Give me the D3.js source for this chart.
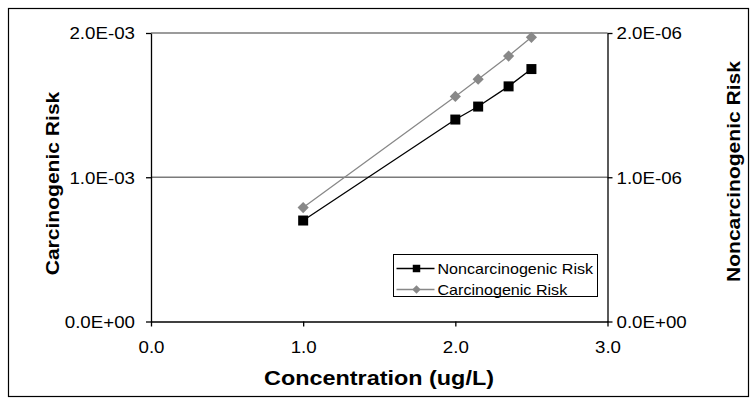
<!DOCTYPE html>
<html>
<head>
<meta charset="utf-8">
<script src="https://cdn.jsdelivr.net/npm/d3@7"></script>
<style>
  html, body { margin: 0; padding: 0; background: #fff; }
  svg { display: block; }
  text { font-family: "Liberation Sans", Arial, sans-serif; fill: #000; }
</style>
</head>
<body>
<svg id="chart" width="750" height="398"></svg>
<script>
// Exposure concentration (ug/L)
const concentration = [1.0, 2.0, 2.15, 2.35, 2.5];
// Carcinogenic risk (left axis)
const carcinogenicRisk = [7.9e-4, 1.56e-3, 1.68e-3, 1.84e-3, 1.97e-3];
// Noncarcinogenic risk (right axis)
const noncarcinogenicRisk = [7.0e-7, 1.40e-6, 1.49e-6, 1.63e-6, 1.75e-6];

const xTickValues = [0, 1, 2, 3];
const xTickLabels = ["0.0", "1.0", "2.0", "3.0"];
const leftTickValues = [0, 1e-3, 2e-3];
const leftTickLabels = ["0.0E+00", "1.0E-03", "2.0E-03"];
const rightTickValues = [0, 1e-6, 2e-6];
const rightTickLabels = ["0.0E+00", "1.0E-06", "2.0E-06"];

const seriesNames = ["Noncarcinogenic Risk", "Carcinogenic Risk"];

const svg = d3.select("#chart");
const STRETCH = 1.17;   // wide glyph rendering along the baseline

const plot = { left: 151, right: 607.5, top: 33, bottom: 321.5 };

const x = d3.scaleLinear().domain([0, 3]).range([plot.left, plot.right]);
const yL = d3.scaleLinear().domain([0, 2e-3]).range([plot.bottom, plot.top]);
const yR = d3.scaleLinear().domain([0, 2e-6]).range([plot.bottom, plot.top]);

// outer frame
svg.append("rect")
  .attr("x", 8.5).attr("y", 8.5).attr("width", 740).attr("height", 388)
  .attr("fill", "none").attr("stroke", "#000").attr("stroke-width", 1.2);

// horizontal gridlines
svg.append("g").selectAll("line")
  .data(leftTickValues.filter(d => d > 0))
  .join("line")
  .attr("x1", plot.left).attr("x2", plot.right)
  .attr("y1", d => yL(d)).attr("y2", d => yL(d))
  .attr("stroke", "#7a7a7a").attr("stroke-width", 1.5);

function styleAxis(g) {
  g.select(".domain").attr("stroke", "#000").attr("stroke-width", 1.3);
  g.selectAll(".tick line").attr("stroke", "#000").attr("stroke-width", 1.3);
}

// left axis
const gL = svg.append("g").attr("transform", `translate(${plot.left},0)`)
  .call(d3.axisLeft(yL).tickValues(leftTickValues).tickSize(5).tickSizeOuter(0)
    .tickFormat((d, i) => leftTickLabels[i]));
styleAxis(gL);
gL.selectAll(".tick text")
  .attr("font-size", 16).attr("font-family", "Liberation Sans, Arial, sans-serif")
  .attr("x", -16 / STRETCH).attr("dy", "0.36em")
  .attr("transform", `scale(${STRETCH},1)`);

// right axis
const gR = svg.append("g").attr("transform", `translate(${plot.right},0)`)
  .call(d3.axisRight(yR).tickValues(rightTickValues).tickSize(5).tickSizeOuter(0)
    .tickFormat((d, i) => rightTickLabels[i]));
styleAxis(gR);
gR.selectAll(".tick text")
  .attr("font-size", 16).attr("font-family", "Liberation Sans, Arial, sans-serif")
  .attr("x", 9 / STRETCH).attr("dy", "0.36em")
  .attr("transform", `scale(${STRETCH},1)`);

// bottom axis
const gX = svg.append("g").attr("transform", `translate(0,${plot.bottom})`)
  .call(d3.axisBottom(x).tickValues(xTickValues).tickSize(5).tickSizeOuter(0)
    .tickFormat((d, i) => xTickLabels[i]));
styleAxis(gX);
gX.selectAll(".tick text")
  .attr("font-size", 16).attr("font-family", "Liberation Sans, Arial, sans-serif")
  .attr("y", 20).attr("dy", "0.71em")
  .attr("transform", `scale(${STRETCH},1)`);

// axis titles
svg.append("text")
  .attr("transform", `translate(379,385) scale(${STRETCH},1)`)
  .attr("text-anchor", "middle").attr("font-size", 20).attr("font-weight", "bold")
  .text("Concentration (ug/L)");

svg.append("text")
  .attr("transform", `translate(59,183.5) rotate(-90) scale(${STRETCH},1)`)
  .attr("text-anchor", "middle").attr("font-size", 18).attr("font-weight", "bold")
  .text("Carcinogenic Risk");

svg.append("text")
  .attr("transform", `translate(740,171.5) rotate(-90) scale(${STRETCH},1)`)
  .attr("text-anchor", "middle").attr("font-size", 18).attr("font-weight", "bold")
  .text("Noncarcinogenic Risk");

// series
const nonPts = concentration.map((c, i) => [x(c), yR(noncarcinogenicRisk[i])]);
const carPts = concentration.map((c, i) => [x(c), yL(carcinogenicRisk[i])]);
const line = d3.line();

const GREY = "#888888";

svg.append("path").attr("d", line(carPts))
  .attr("fill", "none").attr("stroke", GREY).attr("stroke-width", 1.3);
svg.append("path").attr("d", line(nonPts))
  .attr("fill", "none").attr("stroke", "#000").attr("stroke-width", 1.3);

const diamond = d3.symbol().type(d3.symbolDiamond2).size(80);
const square = d3.symbol().type(d3.symbolSquare).size(100);

svg.append("g").selectAll("path").data(carPts).join("path")
  .attr("transform", d => `translate(${d[0]},${d[1]})`)
  .attr("d", diamond).attr("fill", GREY);

svg.append("g").selectAll("path").data(nonPts).join("path")
  .attr("transform", d => `translate(${d[0]},${d[1]})`)
  .attr("d", square).attr("fill", "#000");

// legend
const legend = svg.append("g").attr("transform", "translate(393.5,254.5)");
legend.append("rect").attr("width", 204).attr("height", 42)
  .attr("fill", "#fff").attr("stroke", "#000").attr("stroke-width", 1);

const legendItems = [
  { name: seriesNames[0], color: "#000", sym: d3.symbol().type(d3.symbolSquare).size(56) },
  { name: seriesNames[1], color: GREY, sym: d3.symbol().type(d3.symbolDiamond2).size(45) }
];
const li = legend.selectAll("g.item").data(legendItems).join("g")
  .attr("class", "item")
  .attr("transform", (d, i) => `translate(0,${14 + i * 21})`);
li.append("line").attr("x1", 3).attr("x2", 41).attr("y1", 0).attr("y2", 0)
  .attr("stroke", d => d.color).attr("stroke-width", 1.3);
li.append("path").attr("transform", "translate(23,0)")
  .attr("d", d => d.sym()).attr("fill", d => d.color);
li.append("text")
  .attr("transform", `translate(44,5) scale(1.15,1)`)
  .attr("font-size", 14).text(d => d.name);
</script>
</body>
</html>
